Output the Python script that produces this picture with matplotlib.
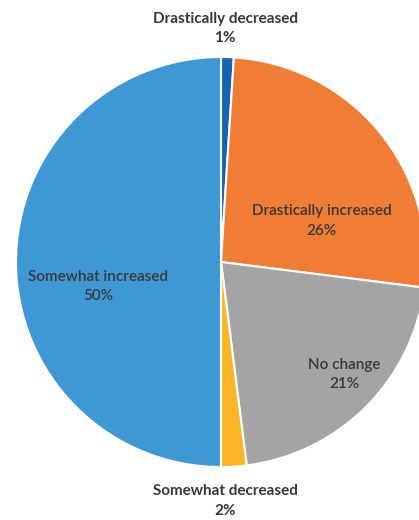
import matplotlib.pyplot as plt

# slice data, clockwise from the top
categories = ["Drastically decreased", "Drastically increased", "No change",
              "Somewhat decreased", "Somewhat increased"]
values = [1, 26, 21, 2, 50]
colors = ["#1764b4", "#f07d36", "#a2a4a6", "#fbb526", "#3f97d4"]

# label positions in pie units (radius = 1)
label_pos = [(0.02, 1.14), (0.49, 0.20), (0.60, -0.55), (0.02, -1.165), (-0.60, -0.12)]
inside = [False, True, True, False, True]

W, H = 419, 520
cx, cy, R = 221, 262, 205  # centre and radius in pixels

fig = plt.figure(figsize=(W / 100, H / 100), dpi=100)
ax = fig.add_axes([0, 0, 1, 1])
ax.pie(values, colors=colors, startangle=90, counterclock=False, radius=1,
       wedgeprops=dict(edgecolor="white", linewidth=1.5))
ax.set_xlim(-cx / R, (W - cx) / R)
ax.set_ylim(-(H - cy) / R, cy / R)
ax.set_aspect("equal")
ax.axis("off")

for cat, val, (x, y), ins in zip(categories, values, label_pos, inside):
    ax.text(x, y, f"{cat}\n{val}%", ha="center", va="center",
            fontsize=11, family="Lato", color="#383838",
            fontweight="semibold" if ins else "bold", linespacing=1.5)

fig.savefig("out.png", dpi=100)
